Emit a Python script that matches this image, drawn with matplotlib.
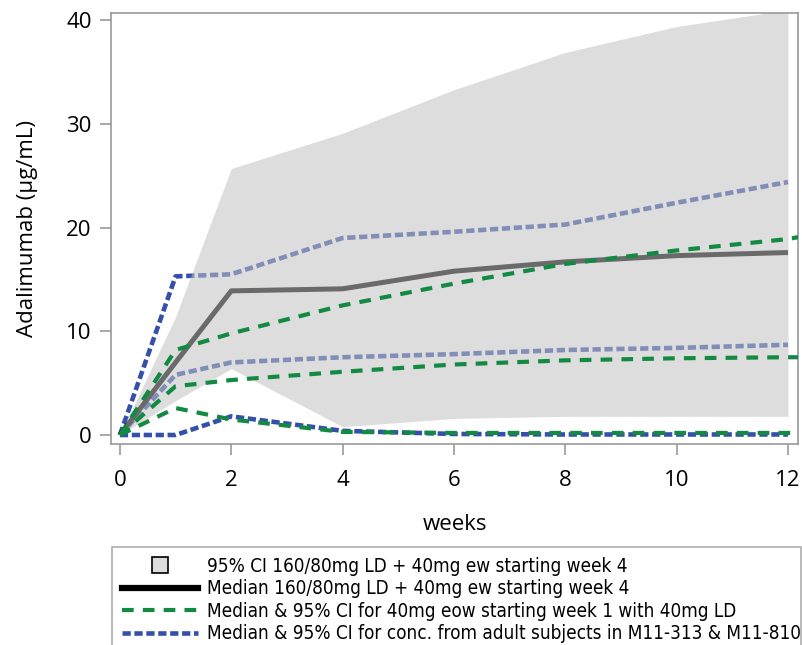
import matplotlib
matplotlib.use("Agg")
import matplotlib.pyplot as plt
from matplotlib.lines import Line2D

# weeks
weeks = [0, 1, 2, 4, 6, 8, 10, 12]
weeks_green = [0, 1, 2, 4, 6, 8, 10, 12, 12.2]

# 95% CI band, 160/80mg LD + 40mg ew
ci_low = [0, 3.3, 6.4, 0.8, 1.6, 1.8, 1.8, 1.8]
ci_high = [0, 11.4, 25.7, 29.1, 33.3, 36.9, 39.4, 41.0]

# median 160/80mg LD + 40mg ew
median_ew = [0, 7.0, 13.9, 14.1, 15.8, 16.7, 17.3, 17.6]

# 40mg eow starting week 1 with 40mg LD
green_med = [0, 8.2, 9.8, 12.5, 14.6, 16.5, 17.8, 18.9, 19.1]
green_low = [0, 4.7, 5.3, 6.1, 6.8, 7.2, 7.4, 7.5, 7.5]
green_min = [0, 2.6, 1.5, 0.3, 0.2, 0.2, 0.2, 0.2, 0.2]

# adult subjects in M11-313 & M11-810
blue_high = [0, 15.3, 15.5, 19.0, 19.6, 20.3, 22.4, 24.4]
blue_med = [0, 5.8, 7.0, 7.5, 7.8, 8.2, 8.4, 8.7]
blue_low = [0, 0, 1.8, 0.4, 0.1, 0.05, 0.05, 0.05]

labels = [
    "95% CI 160/80mg LD + 40mg ew starting week 4",
    "Median 160/80mg LD + 40mg ew starting week 4",
    "Median & 95% CI for 40mg eow starting week 1 with 40mg LD",
    "Median & 95% CI for conc. from adult subjects in M11-313 & M11-810",
]

green = "#138a42"
blue = "#3450aa"
tick_font = ["Open Sans", "DejaVu Sans"]

fig = plt.figure(figsize=(8.03, 6.45), dpi=100)
ax = fig.add_axes([0.1382, 0.3116, 0.8556, 0.6682])

# blue and black lines sit under the translucent band
for ys in (blue_high, blue_med, blue_low):
    ax.plot(weeks, ys, color=blue, lw=3.3, dashes=(1.8, 0.8), zorder=1)
ax.plot(weeks, median_ew, color="black", lw=3.6, zorder=1, solid_capstyle="butt")

ax.fill_between(weeks, ci_low, ci_high, color="#c2c2c2", alpha=0.55, lw=0, zorder=2)

for ys in (green_med, green_low, green_min):
    ax.plot(weeks_green, ys, color=green, lw=3.0, dashes=(2.8, 2.2), zorder=3)

ax.set_xlim(-0.16, 12.18)
ax.set_ylim(-0.87, 40.7)
ax.set_xticks([0, 2, 4, 6, 8, 10, 12])
ax.set_yticks([0, 10, 20, 30, 40])

for s in ax.spines.values():
    s.set_color("#9a9a9a")
    s.set_linewidth(1.2)
ax.tick_params(axis="both", colors="#9a9a9a", length=8, width=1.2, labelsize=16,
               labelcolor="black")
ax.tick_params(axis="x", pad=11)
ax.tick_params(axis="y", pad=6)
for lab in ax.get_xticklabels() + ax.get_yticklabels():
    lab.set_family(tick_font)

ax.set_xlabel("weeks", fontsize=16, family=tick_font, labelpad=16)
ax.set_ylabel("Adalimumab (\u00b5g/mL)", fontsize=16, family=tick_font, labelpad=20)

handles = [
    Line2D([], [], ls="none", marker="s", markersize=12, markerfacecolor="#dcdcdc",
           markeredgecolor="black", markeredgewidth=1.2),
    Line2D([], [], color="black", lw=4.5),
    Line2D([], [], color=green, lw=3.0, dashes=(2.8, 2.2)),
    Line2D([], [], color=blue, lw=3.3, dashes=(1.8, 0.8)),
]
leg = fig.legend(handles, labels, loc="upper left",
                 bbox_to_anchor=(112 / 803, 1 - 553 / 645, 689 / 803, 0.01),
                 mode="expand", frameon=True, fancybox=False, borderpad=0.55,
                 handlelength=4.0, handletextpad=0.5, labelspacing=0.18,
                 borderaxespad=0,
                 prop={"family": "DejaVu Sans", "stretch": "condensed", "size": 13.6})
leg.get_frame().set_edgecolor("#9a9a9a")
leg.get_frame().set_linewidth(1.2)

fig.savefig("out.png", dpi=100)
